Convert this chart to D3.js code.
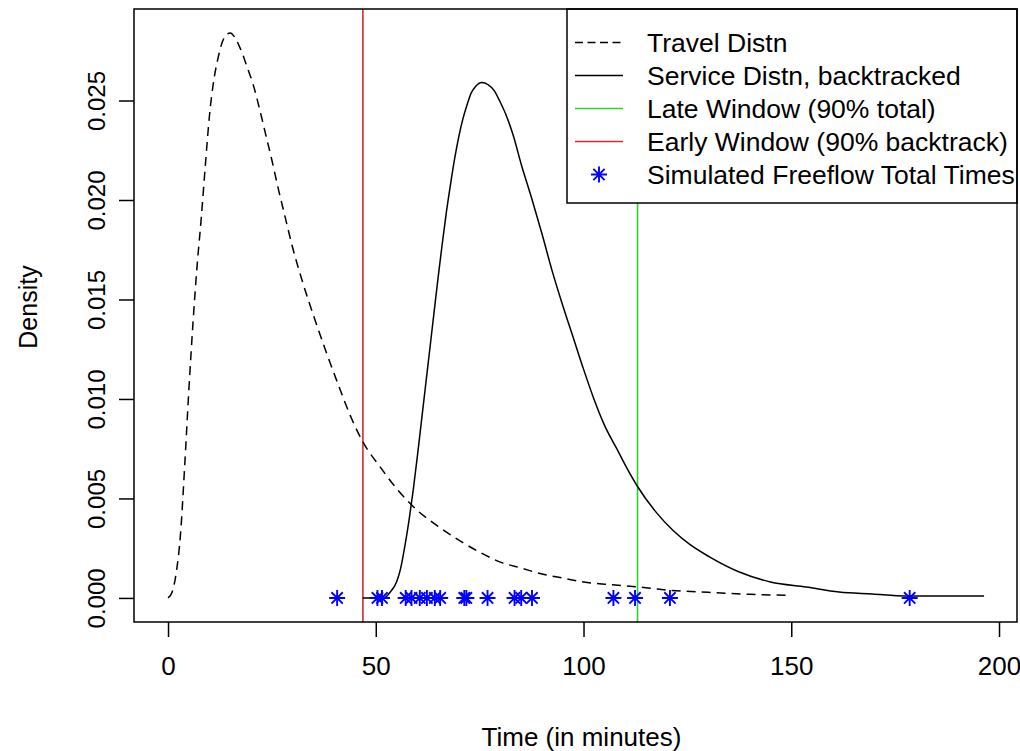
<!DOCTYPE html>
<html>
<head>
<meta charset="utf-8">
<script src="https://cdn.jsdelivr.net/npm/d3@7"></script>
<style>
  html, body { margin: 0; padding: 0; background: #fff; }
  svg { display: block; }
  text { font-family: "Liberation Sans", Arial, sans-serif; fill: #000; }
</style>
</head>
<body>
<svg id="chart" width="1020" height="751"></svg>
<script>
// ---- data ----
const travelX = [0, 1, 2, 3, 4, 5, 6, 7, 8, 9, 10, 11, 12, 13, 14, 15, 16, 17, 18, 19, 20.5, 22, 23.5, 25, 26.5, 28, 30, 32.5, 35, 38, 41, 44, 47, 51, 55, 60, 65, 70, 75, 80, 85, 90, 95, 100, 107, 113.5, 120, 130, 140, 150];
const travelY = [0, 0.0003, 0.0013, 0.0032, 0.0066, 0.0104, 0.0138, 0.0167, 0.0191, 0.0218, 0.0243, 0.0260, 0.0271, 0.0279, 0.0283, 0.0284, 0.0282, 0.0278, 0.0273, 0.0267, 0.0258, 0.0246, 0.0233, 0.0220, 0.0206, 0.0193, 0.0176, 0.0158, 0.0142, 0.0124, 0.0107, 0.0091, 0.0078, 0.0066, 0.0055, 0.0044, 0.0036, 0.0029, 0.0023, 0.0018, 0.0015, 0.0012, 0.0010, 0.0008, 0.00066, 0.00055, 0.0004, 0.00028, 0.00018, 0.00013];

const serviceX = [46.9, 52.0, 53.5, 55, 56, 57, 58, 59, 60, 61, 62, 63, 64, 65, 66, 67, 68, 69, 70, 71, 72, 73, 74, 75.5, 77, 78.5, 80, 81.5, 83, 85, 87.5, 90, 92.5, 95, 97.5, 100, 102.5, 105, 108, 110.5, 113, 117.5, 121.5, 125.5, 130, 137.5, 145, 153.6, 161.5, 169.5, 177.6, 196.4];
const serviceY = [0, 0, 0.0003, 0.0008, 0.0015, 0.0026, 0.0039, 0.0054, 0.0071, 0.0089, 0.0107, 0.0125, 0.0143, 0.0161, 0.0178, 0.0194, 0.0208, 0.0221, 0.0232, 0.0241, 0.0248, 0.0254, 0.0257, 0.0259, 0.0258, 0.0255, 0.0249, 0.0242, 0.0233, 0.0218, 0.0201, 0.0183, 0.0164, 0.0147, 0.0131, 0.0115, 0.0100, 0.0087, 0.0075, 0.0065, 0.0056, 0.0043, 0.0034, 0.0027, 0.0021, 0.0013, 0.0008, 0.00055, 0.0003, 0.0002, 0.0001, 0.0001];

const freeflowTimes = [40.7, 50.4, 51.5, 57.2, 58.6, 60.6, 62.3, 64.2, 65.5, 71.3, 71.8, 76.9, 83.4, 85.0, 87.6, 107.2, 112.4, 120.8, 178.5];

const earlyWindow = 46.9;
const lateWindow = 113.0;

const xTicks = [0, 50, 100, 150, 200];
const yTicks = [0, 0.005, 0.010, 0.015, 0.020, 0.025];
const yTickLabels = ["0.000", "0.005", "0.010", "0.015", "0.020", "0.025"];

const legendLabels = ["Travel Distn", "Service Distn, backtracked", "Late Window (90% total)", "Early Window (90% backtrack)", "Simulated Freeflow Total Times"];
const legendKinds = ["dash", "solid", "green", "red", "star"];

// ---- layout ----
const svg = d3.select("#chart");
const L = 134, R = 1017, T = 9, B = 622;
const RED = "#d42a2a", GREEN = "#2ed12e", BLUE = "#0000ff";
const FONT = '"Liberation Sans", Arial, sans-serif';

const x = d3.scaleLinear().domain([-8.19, 204.33]).range([L, R]);
const y = d3.scaleLinear().domain([-0.00121, 0.0296]).range([B, T]);

svg.append("clipPath").attr("id", "clip")
  .append("rect").attr("x", L).attr("y", T).attr("width", R - L).attr("height", B - T);

const plot = svg.append("g").attr("clip-path", "url(#clip)");

const line = d3.line().x(d => x(d[0])).y(d => y(d[1])).curve(d3.curveMonotoneX);

// vertical windows
plot.append("line").attr("x1", x(earlyWindow)).attr("x2", x(earlyWindow))
  .attr("y1", T).attr("y2", B).attr("stroke", RED).attr("stroke-width", 1.6);
plot.append("line").attr("x1", x(lateWindow)).attr("x2", x(lateWindow))
  .attr("y1", T).attr("y2", B).attr("stroke", GREEN).attr("stroke-width", 1.6);

// curves
plot.append("path").datum(travelX.map((v, i) => [v, travelY[i]]))
  .attr("d", line).attr("fill", "none").attr("stroke", "#000")
  .attr("stroke-width", 1.5).attr("stroke-dasharray", "9,6");
plot.append("path").datum(serviceX.map((v, i) => [v, serviceY[i]]))
  .attr("d", line).attr("fill", "none").attr("stroke", "#000")
  .attr("stroke-width", 1.5);

// star symbol (pch = 8)
function starPath(cx, cy, r) {
  const d = r * Math.SQRT1_2;
  return `M${cx - r},${cy}L${cx + r},${cy}M${cx},${cy - r}L${cx},${cy + r}` +
         `M${cx - d},${cy - d}L${cx + d},${cy + d}M${cx - d},${cy + d}L${cx + d},${cy - d}`;
}
plot.selectAll("path.star").data(freeflowTimes).enter().append("path")
  .attr("class", "star")
  .attr("d", d => starPath(x(d), y(0), 8))
  .attr("fill", "none").attr("stroke", BLUE).attr("stroke-width", 1.9);

// legend (drawn over plot)
const lg = svg.append("g");
const lgX = 567, lgY = T, lgW = R - 567, lgH = 203 - T;
lg.append("rect").attr("x", lgX).attr("y", lgY).attr("width", lgW).attr("height", lgH)
  .attr("fill", "#fff").attr("stroke", "#000").attr("stroke-width", 1.5);
legendLabels.forEach((lab, i) => {
  const cy = 42.5 + i * 33;
  const k = legendKinds[i];
  if (k === "star") {
    lg.append("path").attr("d", starPath(599, cy, 8)).attr("fill", "none")
      .attr("stroke", BLUE).attr("stroke-width", 1.9);
  } else {
    const ln = lg.append("line").attr("x1", 575).attr("x2", 623).attr("y1", cy).attr("y2", cy)
      .attr("stroke-width", 1.5)
      .attr("stroke", k === "green" ? GREEN : k === "red" ? RED : "#000");
    if (k === "dash") ln.attr("stroke-dasharray", "8,4.5");
  }
  lg.append("text").attr("x", 647).attr("y", cy + 9.5).attr("font-size", 26.5).text(lab);
});

// plot box
svg.append("rect").attr("x", L).attr("y", T).attr("width", R - L).attr("height", B - T)
  .attr("fill", "none").attr("stroke", "#000").attr("stroke-width", 1.5);

// x axis
const xAxis = svg.append("g").attr("transform", `translate(0,${B})`)
  .call(d3.axisBottom(x).tickValues(xTicks).tickSize(15).tickPadding(20).tickFormat(d3.format("d")));
xAxis.select(".domain").remove();
xAxis.selectAll("line").attr("stroke", "#000").attr("stroke-width", 1.5);
xAxis.selectAll("text").attr("font-size", 26).attr("font-family", FONT).attr("fill", "#000");

// y axis
const yAxis = svg.append("g").attr("transform", `translate(${L},0)`)
  .call(d3.axisLeft(y).tickValues(yTicks).tickSize(15).tickFormat((d, i) => yTickLabels[i]));
yAxis.select(".domain").remove();
yAxis.selectAll("line").attr("stroke", "#000").attr("stroke-width", 1.5);
yAxis.selectAll("text")
  .attr("font-size", 24).attr("font-family", FONT).attr("fill", "#000")
  .attr("x", 0).attr("dy", 0).attr("text-anchor", "middle")
  .attr("transform", "translate(-29,0) rotate(-90)");

// titles
svg.append("text").attr("x", (L + R) / 2 + 6).attr("y", 746).attr("text-anchor", "middle")
  .attr("font-size", 26).text("Time (in minutes)");
svg.append("text").attr("transform", `translate(37,307) rotate(-90)`)
  .attr("text-anchor", "middle").attr("font-size", 25).text("Density");
</script>
</body>
</html>
